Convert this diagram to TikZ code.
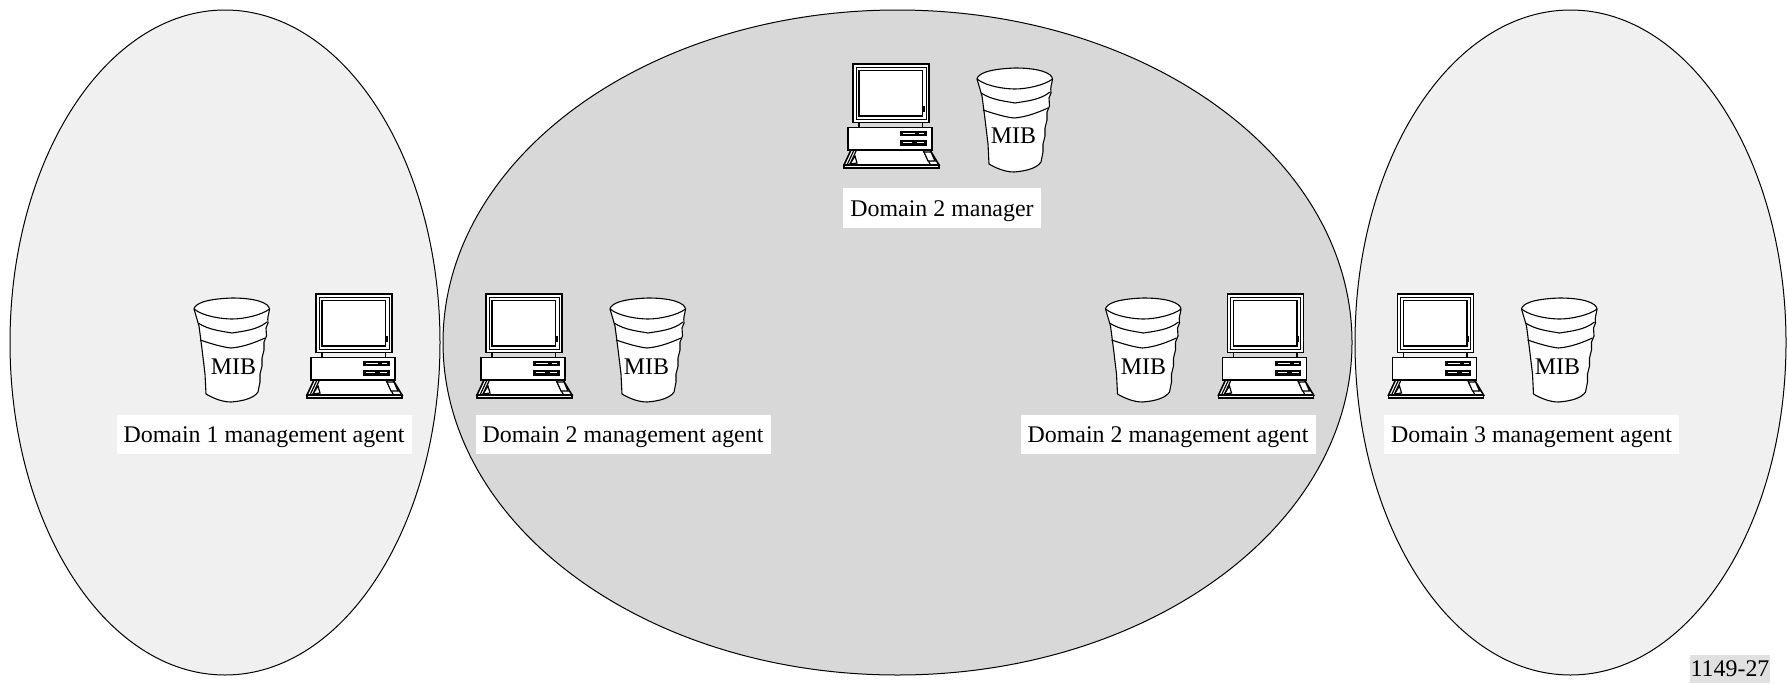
\documentclass[tikz,border=0pt]{standalone}
\usepackage{fontspec}
\setmainfont{Liberation Serif}
\usetikzlibrary{shapes.geometric}
\definecolor{lightdom}{HTML}{F0F0F0}
\definecolor{darkdom}{HTML}{D8D8D8}
\definecolor{tagbg}{HTML}{E0E0E0}
\tikzset{
  x=1pt,y=-1pt,
  domainoval/.style={draw=black,line width=1pt,ellipse,inner sep=0pt,outer sep=0pt},
  lab/.style={fill=white,inner sep=0pt,text height=21.7pt,text depth=5.1pt,font=\fontsize{23.9}{26}\selectfont,anchor=center},
  miblab/.style={inner sep=0pt,font=\fontsize{23.9}{26}\selectfont,anchor=center},
  tagbox/.style={fill=tagbg,inner sep=0pt,font=\fontsize{23.9}{26}\selectfont,anchor=center},
  computer/.pic={
    \begin{scope}[line join=miter,draw=black]
    % keyboard
    \filldraw[fill=white,line width=1.6pt] (-2,86) -- (77,86) -- (86,101) -- (-9,101) -- cycle;
    \filldraw[fill=white,line width=1.3pt] (-9,101) rectangle (86,104);
    \draw[line width=1.2pt] (1,86) -- (-6,101) (3.5,86) -- (-3,100);
    \draw[line width=1.2pt] (70,86) -- (77,100);
    \filldraw[fill=white,line width=1.2pt] (2,92) -- (4,99) -- (-3,100) -- cycle;
    \filldraw[fill=white,line width=1.2pt] (71,88) -- (78,88) -- (82,97) -- (75,97) -- cycle;
    % base
    \filldraw[fill=white,line width=1.3pt] (-5,63.7) rectangle (79,86);
    \fill[black] (47,67) rectangle (73.5,72);
    \fill[black] (47,76) rectangle (73.5,82);
    \fill[white] (50,68.8) rectangle (62,70.2);
    \fill[white] (66,68.8) rectangle (71,70.2);
    \fill[white] (50,78) rectangle (59,79.4);
    \fill[white] (64,78) rectangle (71,79.4);
    % stands
    \draw[line width=1.6pt] (6,58.7) -- (6,63.7) (69.5,58.7) -- (69.5,63.7);
    % monitor
    \filldraw[fill=white,line width=1.4pt] (0,0) rectangle (76,58.7);
    \draw[line width=0.9pt] (3,3) rectangle (73,55.7);
    \draw[line width=1.4pt] (6,6.5) rectangle (69.5,52);
    \fill[black] (69,42) rectangle (71.5,48);
    \end{scope}
  },
  cup/.pic={
    \filldraw[fill=white,draw=black,line width=1.1pt,line join=round]
      (0,5) .. controls (1,0) and (10,-5) .. (38,-6) .. controls (62,-6) and (75,-1) .. (75.5,5)
      .. controls (75,10) and (73,13) .. (74,19) -- (72,24) -- (72.5,32) -- (70,38) -- (70,46) -- (68,54) -- (68,62) -- (66,70) -- (66,78) -- (64,88)
      .. controls (60,94) and (50,97) .. (37,98) .. controls (27,98) and (17,93) .. (12,90)
      -- (11,70) -- (8,45) -- (5,22) -- cycle;
    \draw[line width=1.1pt] (0,5) .. controls (10,13) and (30,15) .. (38,15) .. controls (50,15) and (68,11) .. (75.5,5);
    \draw[line width=1.1pt] (4,19) .. controls (15,26) and (27,27) .. (38,29) .. controls (50,27) and (63,26) .. (73,18);
    \draw[line width=1.1pt] (6,36) .. controls (18,40) and (28,43) .. (37,44) .. controls (50,43) and (62,38) .. (71,34);
  }
}
\begin{document}
\begin{tikzpicture}
\useasboundingbox (0,0) rectangle (1787,683);
\node[domainoval,fill=lightdom,minimum width=430,minimum height=665] (d1) at (225,342.5) {};
\node[domainoval,fill=lightdom,minimum width=431,minimum height=665] (d3) at (1570.5,342.5) {};
\node[domainoval,fill=darkdom,minimum width=909,minimum height=665] (d2) at (897.5,342.5) {};

\pic at (853,64) {computer};
\pic at (977,74) {cup};
\node[miblab] (m0) at (1013.5,136) {MIB};
\node[lab,minimum width=198,minimum height=40] (l0) at (942,208) {Domain 2 manager};

\pic at (194,304) {cup};
\pic at (316,294) {computer};
\node[miblab] (m1) at (233.5,367) {MIB};
\node[lab,minimum width=295,minimum height=39] (l1) at (264,434.5) {Domain 1 management agent};

\pic at (486,294) {computer};
\pic at (610,304) {cup};
\node[miblab] (m2) at (646.5,367) {MIB};
\node[lab,minimum width=295,minimum height=39] (l2) at (623,434.5) {Domain 2 management agent};

\pic at (1105.5,304) {cup};
\pic at (1227.5,294) {computer};
\node[miblab] (m3) at (1143.5,367) {MIB};
\node[lab,minimum width=295,minimum height=39] (l3) at (1168,434.5) {Domain 2 management agent};

\pic at (1397.5,294) {computer};
\pic at (1521.5,304) {cup};
\node[miblab] (m4) at (1557.5,367) {MIB};
\node[lab,minimum width=295,minimum height=39] (l4) at (1531.5,434.5) {Domain 3 management agent};

\node[tagbox,minimum width=80,minimum height=28] (t) at (1730,669) {1149-27};
\end{tikzpicture}
\end{document}
